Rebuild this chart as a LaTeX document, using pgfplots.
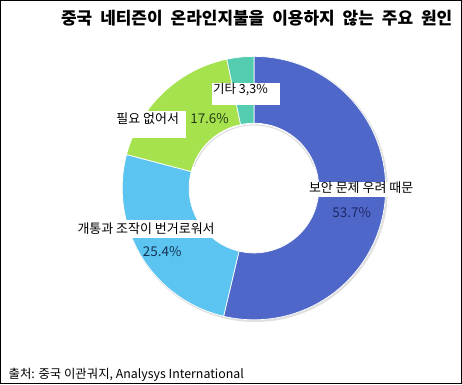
\documentclass[border=0pt]{standalone}
\usepackage{pgfplots}
\usepackage{pgfplotstable}
\pgfplotsset{compat=1.18}
\usepackage{fontspec}
\setmainfont{Noto Sans CJK KR}
\definecolor{cA}{RGB}{79,103,200}
\definecolor{cB}{RGB}{92,196,240}
\definecolor{cC}{RGB}{166,226,78}
\definecolor{cD}{RGB}{84,204,176}
\definecolor{tA}{RGB}{30,40,100}
\definecolor{tB}{RGB}{20,50,85}
\definecolor{tC}{RGB}{40,60,20}
\pgfplotstableread{
idx value
0 53.7
1 25.4
2 17.6
3 3.3
}\slices
\begin{document}
\begin{tikzpicture}
\pgfplotstablegetelem{0}{value}\of\slices \let\vA\pgfplotsretval
\pgfplotstablegetelem{1}{value}\of\slices \let\vB\pgfplotsretval
\pgfplotstablegetelem{2}{value}\of\slices \let\vC\pgfplotsretval
\pgfplotstablegetelem{3}{value}\of\slices \let\vD\pgfplotsretval
\pgfmathsetmacro\aA{90}
\pgfmathsetmacro\aB{\aA-3.6*\vA}
\pgfmathsetmacro\aC{\aB-3.6*\vB}
\pgfmathsetmacro\aD{\aC-3.6*\vC}
\pgfmathsetmacro\aE{\aD-3.6*\vD}
\def\cx{254}\def\cy{196}\def\ro{132}\def\ri{65}
\newcommand\slice[3]{%
  \fill[#1, draw=white, line width=0.7pt]
    (axis cs:{\cx+\ro*cos(#2)},{\cy+\ro*sin(#2)})
    arc[start angle=#2, end angle=#3, radius=\ro pt]
    -- (axis cs:{\cx+\ri*cos(#3)},{\cy+\ri*sin(#3)})
    arc[start angle=#3, end angle=#2, radius=\ri pt] -- cycle;}
\begin{axis}[x=1pt, y=1pt, xmin=0, xmax=462, ymin=0, ymax=384,
  axis lines=box, xtick=\empty, ytick=\empty,
  axis line style={black, line width=1pt}, clip=false]
\fill[black!12] (axis cs:{\cx+1.2},{\cy-1.2}) circle[radius=133pt];
\slice{cA}{\aA}{\aB}
\slice{cB}{\aB}{\aC}
\slice{cC}{\aC}{\aD}
\slice{cD}{\aD}{\aE}
\fill[white] (axis cs:\cx,\cy) circle[radius=64.6pt];
\draw[black!15, line width=0.9pt] (axis cs:{\cx+64*cos(20)},{\cy-0.8+64*sin(20)}) arc[start angle=20, end angle=160, radius=64pt];
% labels
\fill[white] (axis cs:212,279) rectangle (axis cs:280,301);
\node[anchor=west, inner sep=0pt, font=\fontsize{12.5}{13}\selectfont] at (axis cs:213,295) {기타 3,3\%};
\fill[white] (axis cs:115,246) rectangle (axis cs:186,273);
\node[anchor=west, inner sep=0pt, font=\fontsize{13}{13}\selectfont] at (axis cs:116,266) {필요 없어서};
\node[anchor=west, inner sep=0pt, text=tC, font=\fontsize{13.5}{13}\selectfont] at (axis cs:190,266) {17.6\%};
\fill[white] (axis cs:75,146) rectangle (axis cs:220,164);
\node[anchor=west, inner sep=0pt, font=\fontsize{13}{13}\selectfont] at (axis cs:77,155) {개통과 조작이 번거로워서};
\node[inner sep=0pt, text=tB, font=\fontsize{13.5}{13}\selectfont] at (axis cs:162,132) {25.4\%};
\fill[white] (axis cs:307,187) rectangle (axis cs:392,202);
\node[anchor=west, inner sep=0pt, font=\fontsize{13}{13}\selectfont] at (axis cs:309,196) {보안 문제 우려 때문};
\node[inner sep=0pt, text=tA, font=\fontsize{13.5}{13}\selectfont] at (axis cs:352,171) {53.7\%};
% title and source
\node[anchor=east, inner sep=0pt, font=\bfseries\fontsize{17}{17}\selectfont] at (axis cs:453,366) {중국\hspace{8pt}네티즌이\hspace{8pt}온라인지불을\hspace{8pt}이용하지\hspace{8pt}않는\hspace{8pt}주요\hspace{8pt}원인};
\node[anchor=west, inner sep=0pt, font=\fontsize{12.4}{12}\selectfont] at (axis cs:8,9) {출처: 중국 이관궈지, Analysys International};
\end{axis}
\end{tikzpicture}
\end{document}
